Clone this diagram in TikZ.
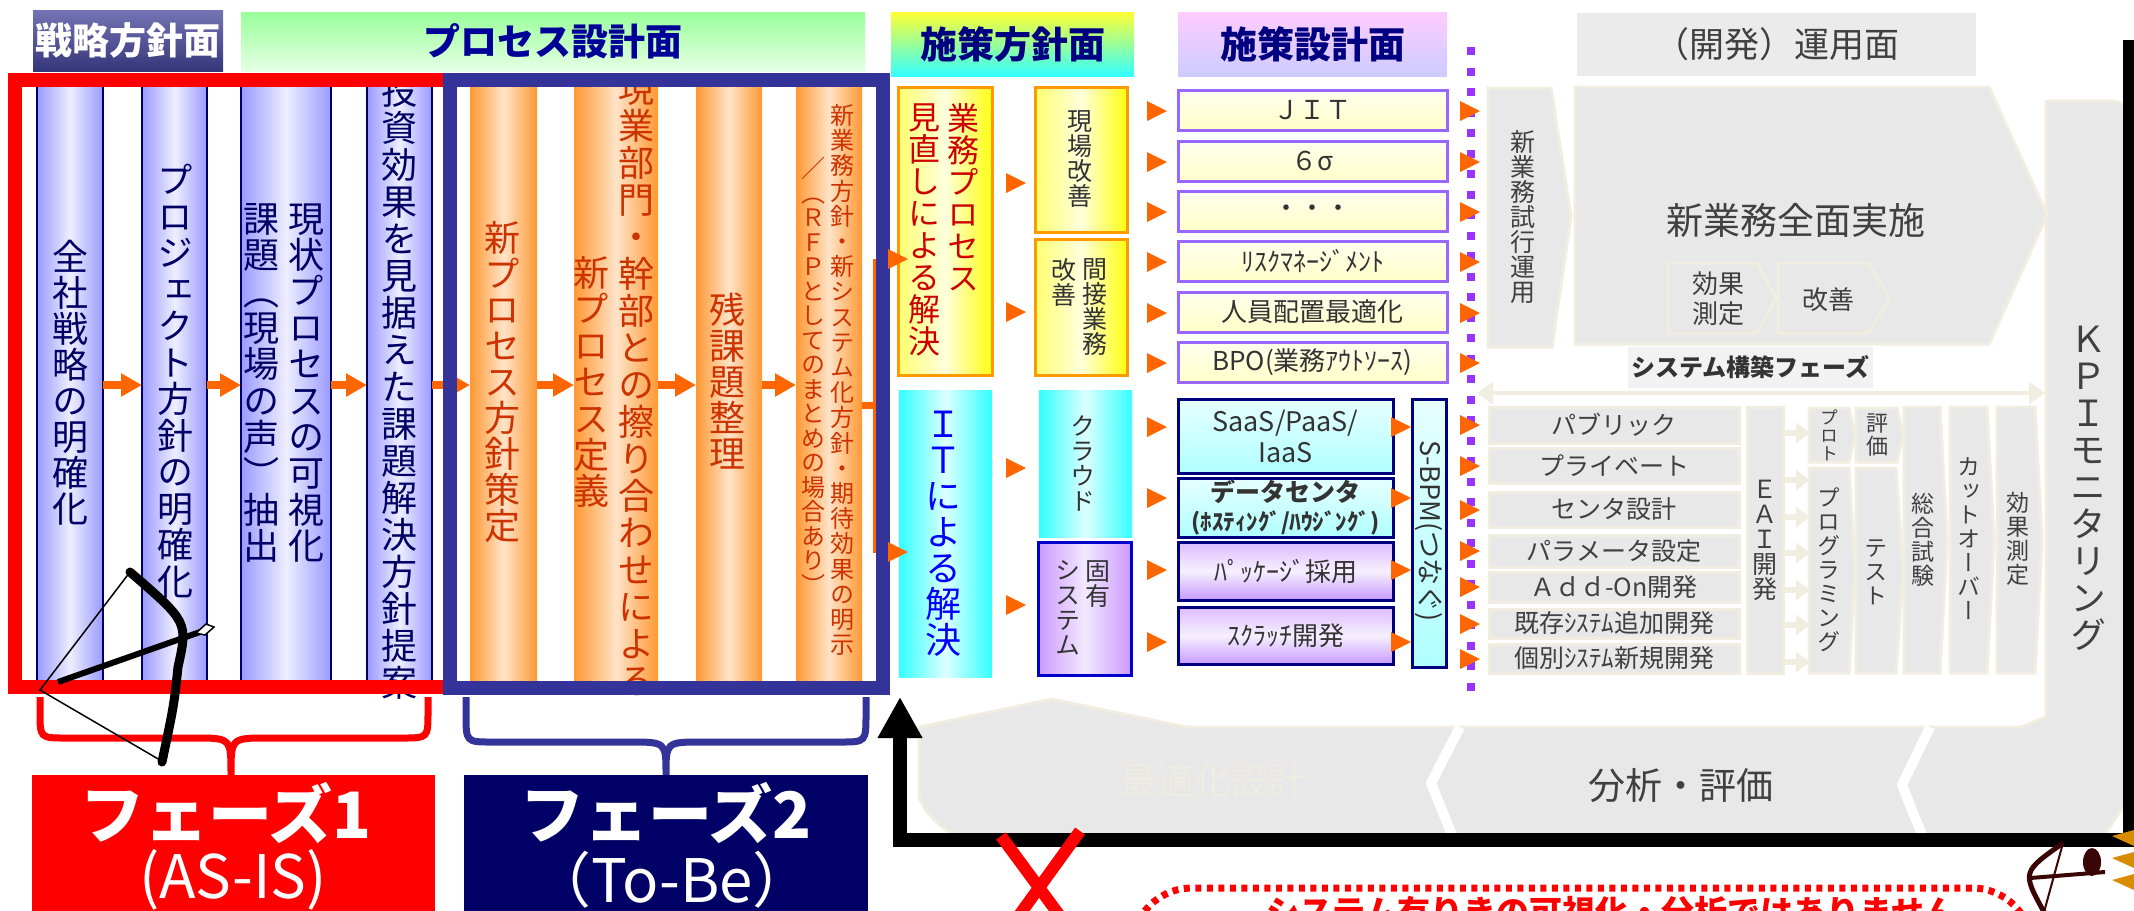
\documentclass[tikz,border=0pt]{standalone}
\usepackage{fontspec}
\setmainfont{Noto Sans CJK JP}
\newfontfamily\tatefont{Noto Sans CJK JP}[RawFeature=+vert]
\usetikzlibrary{arrows.meta}

\definecolor{frred}{HTML}{FF0000}
\definecolor{frblue}{HTML}{333399}
\definecolor{phnavy}{HTML}{000066}
\definecolor{hdtop}{HTML}{7474B4}
\definecolor{hdbot}{HTML}{35357A}
\definecolor{hdgreen}{HTML}{99FF99}
\definecolor{hdgreenpale}{HTML}{E6FFE6}
\definecolor{hdyellow}{HTML}{FFFF33}
\definecolor{hdcyan}{HTML}{33FFFF}
\definecolor{hdpink}{HTML}{FFCCFF}
\definecolor{hdlav}{HTML}{CCCCFF}
\definecolor{hdgray}{HTML}{EBEBEB}
\definecolor{hdblue}{HTML}{000099}
\definecolor{hdnavy}{HTML}{000080}
\definecolor{colnavy}{HTML}{000066}
\definecolor{colblue}{HTML}{9A9AFF}
\definecolor{colpale}{HTML}{EEEEFF}
\definecolor{orgedge}{HTML}{FF9933}
\definecolor{orgpale}{HTML}{FFE3C8}
\definecolor{orgtext}{HTML}{CC3300}
\definecolor{arrorange}{HTML}{FF6600}
\definecolor{yelleft}{HTML}{FFFF70}
\definecolor{yelpale}{HTML}{FFFFDD}
\definecolor{yelright}{HTML}{FFFF10}
\definecolor{yelline}{HTML}{FF9900}
\definecolor{yeltext}{HTML}{CC0000}
\definecolor{cyanedge}{HTML}{33FFFF}
\definecolor{cyanpale}{HTML}{DDFFFF}
\definecolor{lilac}{HTML}{CC99FF}
\definecolor{lilacpale}{HTML}{F2E8FF}
\definecolor{lilacline}{HTML}{0000CC}
\definecolor{creamtop}{HTML}{FFFFEE}
\definecolor{creambot}{HTML}{FFFFC8}
\definecolor{ittop}{HTML}{E6FFFF}
\definecolor{itbot}{HTML}{B0FFFF}
\definecolor{pktop}{HTML}{DDBBFF}
\definecolor{pkmid}{HTML}{F6F0FF}
\definecolor{pkbot}{HTML}{C89CFF}
\definecolor{boxpurple}{HTML}{9966FF}
\definecolor{boxnavy}{HTML}{000080}
\definecolor{dotpurple}{HTML}{9933FF}
\definecolor{opsgray}{HTML}{E8E8E8}
\definecolor{opsline}{HTML}{F1EDE0}
\definecolor{opslabel}{HTML}{F2F2F2}
\definecolor{opstext}{HTML}{404040}
\definecolor{faint}{HTML}{EFECE2}
\definecolor{darktext}{HTML}{333333}
\definecolor{maroon}{HTML}{3A0505}
\definecolor{sunorange}{HTML}{D98C00}

% font size in pixels of the 2134 px sheet
\newcommand\pxfont[1]{\fontsize{\fpeval{#1*0.2845}pt}{\fpeval{#1*0.2845*1.15}pt}\selectfont}
% one glyph per line, top to bottom; #1 = pitch in px
\makeatletter
\newcommand\tate[2]{\vbox{\baselineskip=\fpeval{#1*0.2845}pt\lineskiplimit=-\maxdimen\lineskip=0pt
  \@tfor\tate@c:=#2\do{\hbox to 1em{\hss\tate@c\hss}}}}
\makeatother

\begin{document}
\begin{tikzpicture}[x=0.1mm,y=-0.1mm,
  wh/.style 2 args={minimum width=#1*0.1mm,minimum height=#2*0.1mm,inner sep=0pt,outer sep=0pt},
  hd/.style={inner sep=0pt,font=\bfseries\pxfont{37}},
  blcol/.style={draw=colnavy,line width=0.25mm,left color=colblue,right color=colblue,middle color=colpale},
  orcol/.style={left color=orgedge,right color=orgedge,middle color=orgpale},
  bltxt/.style={inner sep=0pt,text=colnavy,font=\tatefont\pxfont{36}},
  ortxt/.style={inner sep=0pt,text=orgtext,font=\tatefont\pxfont{36}},
  oarr/.style={draw=arrorange,line width=0.75mm,-{Triangle[length=2.1mm,width=2.2mm]}},
  otri/.pic={\fill[arrorange] (-10,-10) -- (10,0) -- (-10,10) -- cycle;},
  yelbox/.style={draw=yelline,line width=0.3mm,left color=yelleft,right color=yelright,middle color=yelpale},
  cyanbox/.style={left color=cyanedge,right color=cyanedge,middle color=cyanpale},
  lilbox/.style={draw=lilacline,line width=0.3mm,left color=lilac,right color=lilac,middle color=lilacpale},
  smtxt/.style={inner sep=0pt,text=darktext,font=\tatefont\pxfont{25}},
  dsbox/.style={draw=boxpurple,line width=0.3mm,top color=creamtop,bottom color=creambot,text=darktext,font=\pxfont{26}},
  itbox/.style={draw=boxnavy,line width=0.3mm,top color=ittop,bottom color=itbot,text=darktext,font=\pxfont{27}},
  pkbox/.style={draw=boxnavy,line width=0.3mm,top color=pktop,bottom color=pkbot,middle color=pkmid,text=darktext,font=\pxfont{26}},
  opsshape/.style={fill=opsgray,draw=opsline,line width=0.3mm},
  opstxt/.style={inner sep=0pt,text=opstext},
  rowbox/.style={fill=opsgray,draw=opsline,line width=0.3mm,text=opstext,font=\pxfont{25}},
  beigearr/.style={draw=opsline,line width=0.6mm,-{Triangle[length=1.4mm,width=2mm]}},
  phtxt/.style={inner sep=0pt,text=white}]

\useasboundingbox (0,0) rectangle (2134,910);
\clip (0,0) rectangle (2134,910);

% operations background (KPI bar + bottom band)
\filldraw[opsshape] (919,798) -- (919,727) -- (1052,699) -- (1186,727) -- (2021,727) -- (2046,717) -- (2046,101) -- (2100,101) .. controls (2124,101) .. (2124,125) -- (2124,805) -- (2100,842) -- (965,842) .. controls (940,826) .. (927,812) -- cycle;
\draw[white,line width=1mm] (1460,727) -- (1431,783) -- (1456,845);
\draw[white,line width=1mm] (1930,727) -- (1902,785) -- (1926,845);
\node[opstxt,text=faint,font=\pxfont{37}] (optd) at (1213,780) {最適化設計};
\node[opstxt,font=\pxfont{37}] (anev) at (1681,786) {分析・評価};
\node[opstxt,font=\tatefont\pxfont{36}] (kpi) at (2088,488) {\tate{37}{ＫＰＩモニタリング}};

% headers
\node[hd,wh={190}{61},top color=hdtop,bottom color=hdbot,text=white] (h1) at (128,40.5) {戦略方針面};
\node[hd,wh={624}{59},top color=hdgreen,bottom color=hdgreenpale,text=hdblue] (h2) at (553,41.5) {プロセス設計面};
\node[hd,wh={243}{64},top color=hdyellow,bottom color=hdcyan,text=hdnavy] (h3) at (1012.5,44) {施策方針面};
\node[hd,wh={269}{64},top color=hdpink,bottom color=hdlav,text=hdnavy] (h4) at (1312.5,44) {施策設計面};
\node[hd,wh={399}{63},fill=hdgray,text=opstext,font=\pxfont{35}] (h5) at (1776.5,44.5) {（開発）運用面};

% strategy / process columns
\node[blcol,wh={66}{610}] (sk1) at (70,385) {};
\node[blcol,wh={65}{610}] (sk2) at (174.5,385) {};
\node[blcol,wh={90}{610}] (sk3) at (286,385) {};
\node[blcol,wh={65}{610}] (sk4) at (399.5,385) {};
\node[orcol,wh={67}{610}] (pc1) at (503.5,385) {};
\node[orcol,wh={84}{610}] (pc2) at (616,385) {};
\node[orcol,wh={66}{610}] (pc3) at (729,385) {};
\node[orcol,wh={66}{610}] (pc4) at (829,385) {};

\node[bltxt] (sk1t) at (70,383) {\tate{36}{全社戦略の明確化}};
\node[bltxt] (sk2t) at (175,381) {\tate{36.5}{プロジェクト方針の明確化}};
\node[bltxt] (sk3r) at (306,383) {\tate{36.4}{現状プロセスの可視化}};
\node[bltxt] (sk3l) at (261,383) {\tate{36.4}{課題（現場の声）抽出}};
\node[bltxt] (sk4t) at (399,387) {\tate{37}{投資効果を見据えた課題解決方針提案}};
\node[ortxt] (pc1t) at (502,382) {\tate{36}{新プロセス方針策定}};
\node[ortxt] (pc2l) at (591,382) {\tate{36.4}{新プロセス定義}};
\node[ortxt] (pc2r) at (636,385) {\tate{37}{現業部門・幹部との擦り合わせによる}};
\node[ortxt] (pc3t) at (727,381) {\tate{36}{残課題整理}};
\node[ortxt,font=\tatefont\pxfont{24}] (pc4r) at (842,380) {\tate{25.2}{新業務方針・新システム化方針・期待効果の明示}};
\node[ortxt,font=\tatefont\pxfont{24}] (pc4l) at (813,376) {\tate{24.5}{／（ＲＦＰとしてのまとめの場合あり）}};

\draw[oarr] (sk1) -- (sk2);
\draw[oarr] (sk2) -- (sk3);
\draw[oarr] (sk3) -- (sk4);
\draw[oarr] (sk4) -- (pc1);
\draw[oarr] (pc1) -- (pc2);
\draw[oarr] (pc2) -- (pc3);
\draw[oarr] (pc3) -- (pc4);
\draw[arrorange,line width=0.7mm] ([yshift=-2mm]pc4.east) -- ++(16,0);
\draw[arrorange,line width=0.5mm] (875,259) -- (875,553);

% phase frames
\draw[frred,line width=1.4mm] (15,80) rectangle (450,687);
\draw[frblue,line width=1.4mm] (450,80) rectangle (883,688);

% measure policy
\node[yelbox,wh={94}{288}] (yb) at (945,231) {};
\node[inner sep=0pt,text=yeltext,font=\tatefont\pxfont{32},anchor=north] (yb1) at (963,103) {\tate{32}{業務プロセス}};
\node[inner sep=0pt,text=yeltext,font=\tatefont\pxfont{32},anchor=north] (yb2) at (924,103) {\tate{32}{見直しによる解決}};
\node[cyanbox,wh={93}{287}] (cb) at (945.5,533.5) {};
\node[inner sep=0pt,text=blue,font=\tatefont\pxfont{36}] (cbt) at (943,534) {\tate{36}{ＩＴによる解決}};

\node[yelbox,wh={92}{145}] (s1) at (1081,159.5) {};
\node[smtxt] (s1t) at (1080,159) {\tate{25}{現場改善}};
\node[yelbox,wh={92}{136}] (s2) at (1081,307) {};
\node[smtxt,anchor=north] (s2r) at (1095,258) {\tate{25}{間接業務}};
\node[smtxt,anchor=north] (s2l) at (1064,258) {\tate{25}{改善}};
\node[cyanbox,wh={93}{147}] (s3) at (1085.5,463.5) {};
\node[smtxt] (s3t) at (1083,463) {\tate{25}{クラウド}};
\node[lilbox,wh={93}{133}] (s4) at (1084.5,608.5) {};
\node[smtxt,anchor=north] (s4r) at (1098,560) {\tate{25}{固有}};
\node[smtxt,anchor=north] (s4l) at (1068,560) {\tate{25}{システム}};

\foreach \yy in {259,552} \pic at (898,\yy) {otri};
\foreach \yy in {183,312,468,605} \pic at (1016,\yy) {otri};

% measure design
\node[dsbox,wh={269}{40}] (d1) at (1312.5,110) {ＪＩＴ};
\node[dsbox,wh={269}{40}] (d2) at (1312.5,161) {６σ};
\node[dsbox,wh={269}{40}] (d3) at (1312.5,211) {・・・};
\node[dsbox,wh={269}{40}] (d4) at (1312.5,261) {ﾘｽｸﾏﾈｰｼﾞﾒﾝﾄ};
\node[dsbox,wh={269}{40}] (d5) at (1312.5,312) {人員配置最適化};
\node[dsbox,wh={269}{40}] (d6) at (1312.5,362) {BPO(業務ｱｳﾄｿｰｽ)};
\node[itbox,wh={215}{74},align=center] (it1) at (1285.5,436) {SaaS/PaaS/\\IaaS};
\node[itbox,wh={215}{59},align=center,font=\bfseries\pxfont{25}] (it2) at (1285.5,507.5) {データセンタ\\{\pxfont{23}(ﾎｽﾃｨﾝｸﾞ/ﾊｳｼﾞﾝｸﾞ)}};
\node[pkbox,wh={215}{58}] (pk1) at (1285.5,571) {ﾊﾟｯｹｰｼﾞ採用};
\node[pkbox,wh={215}{57}] (pk2) at (1285.5,635.5) {ｽｸﾗｯﾁ開発};
\node[itbox,wh={34}{268}] (sbpm) at (1429,533) {};
\node[inner sep=0pt,rotate=-90,text=darktext,font=\pxfont{27}] (sbpmt) at (1429,531) {S-BPM(つなぐ)};

\foreach \yy in {111,162,212,262,313,363,427,498,570,642} \pic at (1157,\yy) {otri};
\foreach \yy in {427,498,570,642} \pic at (1401,\yy) {otri};

% border between design and operations
\draw[dotpurple,line width=0.8mm,dash pattern=on 0.8mm off 1.25mm] (1471,47) -- (1471,692);
\foreach \yy in {111,162,212,262,313,363,425,466,510,551,587,624,659} \pic at (1470,\yy) {otri};

% operations
\filldraw[opsshape] (1488,88) -- (1551,88) -- (1571,217) -- (1552,347) -- (1488,347) -- cycle;
\node[opstxt,font=\tatefont\pxfont{25}] (trial) at (1523,217) {\tate{25}{新業務試行運用}};
\filldraw[opsshape] (1575,87) -- (1989,87) -- (2047,215) -- (1989,344) -- (1575,344) -- cycle;
\node[opstxt,font=\pxfont{37}] (full) at (1796,220) {新業務全面実施};
\filldraw[opsshape] (1668,263) -- (1757,263) -- (1776,298) -- (1757,333) -- (1668,333) -- cycle;
\filldraw[opsshape] (1778,263) -- (1868,263) -- (1890,298) -- (1868,333) -- (1778,333) -- cycle;
\node[opstxt,font=\pxfont{26},align=center] (kk) at (1718,299) {効果\\測定};
\node[opstxt,font=\pxfont{26}] (kz) at (1828,300) {改善};

\node[wh={245}{41},fill=opslabel,text=darktext,font=\bfseries\pxfont{24}] (phase) at (1750.5,367.5) {システム構築フェーズ};
\draw[opsline,line width=0.45mm,{Triangle[length=1.6mm,width=2.2mm]}-{Triangle[length=1.6mm,width=2.2mm]}] (1477,393) -- (2045,393);

\node[rowbox,wh={250}{36}] (r1) at (1614,425) {パブリック};
\node[rowbox,wh={250}{35}] (r2) at (1614,465.5) {プライベート};
\node[rowbox,wh={250}{35}] (r3) at (1614,509.5) {センタ設計};
\node[rowbox,wh={250}{32}] (r4) at (1614,551) {パラメータ設定};
\node[rowbox,wh={250}{30}] (r5) at (1614,587) {Ａｄｄ-On開発};
\node[rowbox,wh={250}{29}] (r6) at (1614,623.5) {既存ｼｽﾃﾑ追加開発};
\node[rowbox,wh={250}{29}] (r7) at (1614,658.5) {個別ｼｽﾃﾑ新規開発};
\node[rowbox,wh={36}{266},font=\tatefont\pxfont{25}] (eai) at (1765,540) {\tate{25}{ＥＡＩ開発}};
\foreach \dy in {10.7,6.0,2.3,-1.3,-5.0,-8.5,-12.2}
  \draw[beigearr] ([yshift=\dy mm]eai.east) -- ++(27,0);

\filldraw[opsshape] (1809,408) -- (1849,408) -- (1855,435) -- (1849,462) -- (1809,462) -- cycle;
\filldraw[opsshape] (1856,408) -- (1897,408) -- (1903,435) -- (1897,462) -- (1856,462) -- cycle;
\filldraw[opsshape] (1809,468) -- (1849,468) -- (1855,570) -- (1849,673) -- (1809,673) -- cycle;
\filldraw[opsshape] (1856,468) -- (1896,468) -- (1903,570) -- (1896,673) -- (1856,673) -- cycle;
\filldraw[opsshape] (1904,407) -- (1940,407) -- (1947,540) -- (1940,673) -- (1904,673) -- cycle;
\filldraw[opsshape] (1950,407) -- (1987,407) -- (1994,540) -- (1987,673) -- (1950,673) -- cycle;
\filldraw[opsshape] (1997,407) -- (2035,407) -- (2042,540) -- (2035,673) -- (1997,673) -- cycle;
\node[opstxt,font=\tatefont\pxfont{18}] (prot) at (1829,435) {\tate{18}{プロト}};
\node[opstxt,font=\tatefont\pxfont{22}] (hyok) at (1877,435) {\tate{23}{評価}};
\node[opstxt,font=\tatefont\pxfont{23}] (prog) at (1829,570) {\tate{24}{プログラミング}};
\node[opstxt,font=\tatefont\pxfont{23}] (test) at (1876,572) {\tate{24}{テスト}};
\node[opstxt,font=\tatefont\pxfont{23}] (sogo) at (1923,540) {\tate{24}{総合試験}};
\node[opstxt,font=\tatefont\pxfont{23}] (cuto) at (1969,539) {\tate{24}{カットオーバー}};
\node[opstxt,font=\tatefont\pxfont{23}] (kmes) at (2018,539) {\tate{24}{効果測定}};

% feedback loop
\draw[black,line width=1.45mm,-{Triangle[length=4.1mm,width=4.2mm]}] (2130,40) -- (2130,840) -- (900,840) -- (900,697);
\draw[frred,line width=1.2mm] (1001,836) -- (1085,950) (1080,831) -- (994,950);

% phases
\draw[frred,line width=0.7mm] (40,697) -- (40,712) .. controls (40,738) .. (66,738) -- (195,738) .. controls (231,738) .. (231,775) .. controls (231,738) .. (267,738) -- (402,738) .. controls (428,738) .. (428,712) -- (428,697);
\draw[frblue,line width=0.7mm] (466,697) -- (466,714) .. controls (466,742) .. (492,742) -- (630,742) .. controls (666,742) .. (666,775) .. controls (666,742) .. (702,742) -- (840,742) .. controls (866,742) .. (866,714) -- (866,697);
\node[wh={403}{150},fill=frred,anchor=north west] (ph1) at (32,775) {};
\node[wh={404}{150},fill=phnavy,anchor=north west] (ph2) at (464,775) {};
\node[phtxt,font=\bfseries\pxfont{64}] (ph1a) at (226,813) {フェーズ1};
\node[phtxt,font=\pxfont{60}] (ph1b) at (233,880) {(AS-IS)};
\node[phtxt,font=\bfseries\pxfont{64}] (ph2a) at (666,813) {フェーズ2};
\node[phtxt,font=\pxfont{60}] (ph2b) at (672,880) {（To-Be）};

% note
\draw[frred,line width=0.7mm,dash pattern=on 0.6mm off 0.55mm,rounded corners=6mm] (1132,1000) -- (1132,888) -- (2032,888) -- (2032,1000);
\node[anchor=north,inner sep=0pt,text=frred,font=\bfseries\pxfont{33}] (warn) at (1612,896) {システム有りきの可視化・分析ではありません};

% archers
\draw[line width=0.9mm,line cap=round] (130,572) .. controls (188,622) .. (178,667) .. controls (174,705) .. (162,762);
\draw[line width=0.15mm] (130,572) -- (40,690) -- (160,760);
\draw[line width=0.6mm] (58,682) -- (200,632);
\filldraw[fill=white,draw=black,line width=0.15mm] (196,633) -- (206,624) -- (214,627) -- (205,635) -- cycle;
\draw[maroon,line width=0.5mm] (2063,843) .. controls (2022,872) .. (2044,912);
\draw[maroon,line width=0.2mm] (2063,843) -- (2044,912);
\draw[maroon,line width=0.4mm] (2030,878) -- (2105,872);
\fill[maroon] (2092,862) ellipse [x radius=9,y radius=14];
\foreach \a in {0,1,2} \fill[sunorange] (2134,830+\a*22) -- (2112,836+\a*22) -- (2134,846+\a*22) -- cycle;
\end{tikzpicture}
\end{document}
